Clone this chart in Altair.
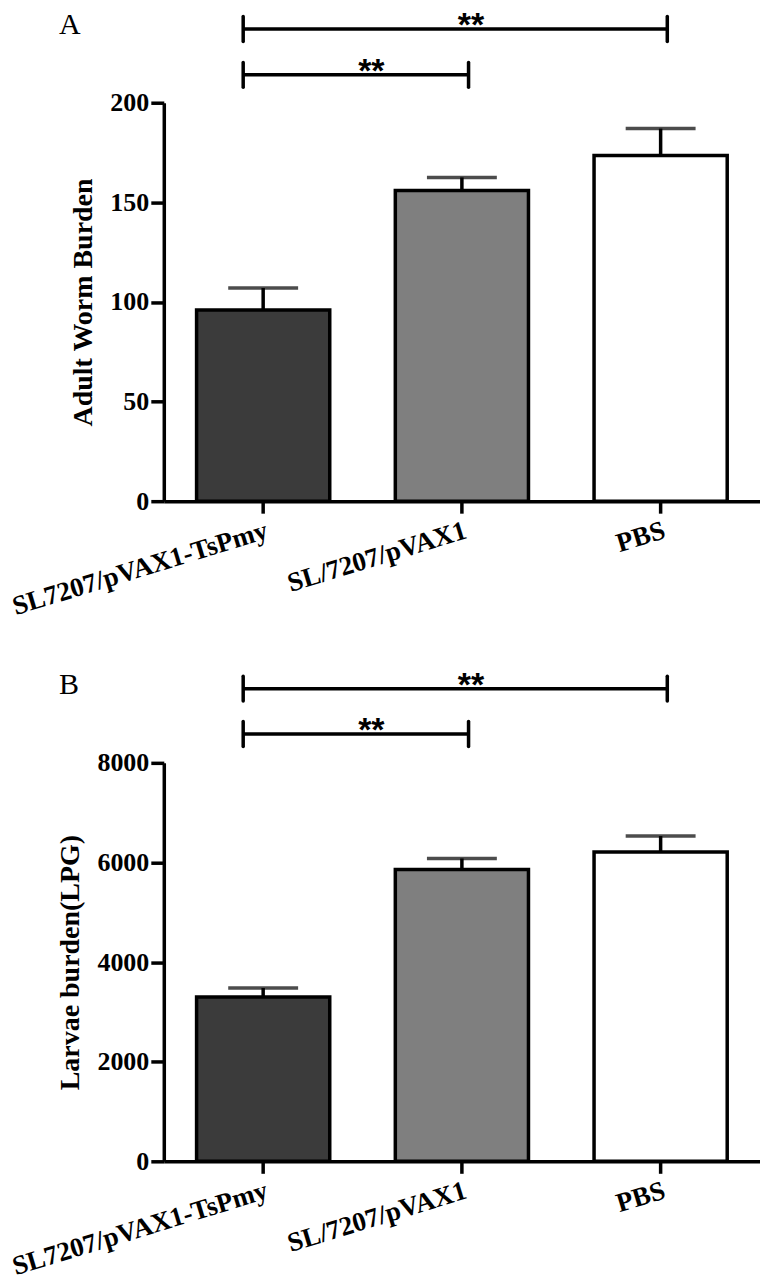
import altair as alt
import pandas as pd

groups = ["SL7207/pVAX1-TsPmy", "SL/7207/pVAX1", "PBS"]
adult_mean = [96, 156, 173.5]
adult_sd = [11, 6.5, 13.5]
larvae_mean = [3300, 5860, 6210]
larvae_sd = [180, 220, 320]
bar_fills = ["#3b3b3b", "#7f7f7f", "#ffffff"]

comp_from = ["SL7207/pVAX1-TsPmy", "SL7207/pVAX1-TsPmy"]
comp_to = ["PBS", "SL/7207/pVAX1"]
comp_mid = ["SL/7207/pVAX1", "SL/7207/pVAX1"]
comp_sig = ["**", "**"]
adult_levels = [237, 214]
larvae_levels = [9490, 8580]

FONT = "Liberation Serif"
SW = 3.5


def panel(means, sds, levels, tick_half, domain_max, ticks, ytitle, letter):
    bars = pd.DataFrame({"group": groups, "mean": means, "sd": sds})
    comps = pd.DataFrame({"g1": comp_from, "g2": comp_to, "mid": comp_mid,
                          "sig": comp_sig, "level": levels, "idx": [0, 1]})

    xscale = alt.Scale(domain=groups, paddingInner=0.33, paddingOuter=0.165)
    x = alt.X("group:N", scale=xscale, sort=groups,
              axis=alt.Axis(title=None, labelAngle=-17, labelAlign="right",
                            labelBaseline="top", labelFont=FONT, labelFontSize=27,
                            labelFontWeight="bold", labelColor="black", labelLimit=0,
                            tickSize=12, tickWidth=SW, tickColor="black",
                            domainWidth=SW, domainColor="black", labelPadding=4))
    y = alt.Y("mean:Q", scale=alt.Scale(domain=[0, domain_max], nice=False),
              axis=alt.Axis(values=ticks, format="d", title=ytitle, grid=False,
                            labelFont=FONT, labelFontSize=26, labelFontWeight="bold",
                            labelColor="black", tickSize=13, tickWidth=SW,
                            tickColor="black", domainWidth=SW, domainColor="black",
                            labelPadding=2, titleFont=FONT, titleFontSize=28,
                            titleFontWeight="bold", titleColor="black",
                            titlePadding=12))

    base = alt.Chart(bars)
    bar = base.mark_bar(stroke="black", strokeWidth=SW).encode(
        x=x, y=y,
        fill=alt.Fill("group:N", scale=alt.Scale(domain=groups, range=bar_fills),
                      legend=None))
    eb = base.transform_calculate(top="datum.mean + datum.sd")
    stem = eb.mark_rule(strokeWidth=SW, color="black").encode(
        x=alt.X("group:N", sort=groups), y="mean:Q", y2="top:Q")
    cap = eb.mark_tick(size=70, thickness=SW, color="black", orient="horizontal").encode(
        x=alt.X("group:N", sort=groups), y="top:Q")

    cb = alt.Chart(comps).transform_calculate(
        lo=f"datum.level - {tick_half}", hi=f"datum.level + {tick_half}")
    hline = cb.mark_rule(strokeWidth=SW, color="black").encode(
        x=alt.X("g1:N", bandPosition=0.35),
        x2=alt.X2("g2:N", bandPosition=0.55),
        y="level:Q")
    lt = cb.mark_rule(strokeWidth=SW, color="black", strokeCap="round").encode(
        x=alt.X("g1:N", bandPosition=0.35), y="lo:Q", y2="hi:Q")
    rt = cb.mark_rule(strokeWidth=SW, color="black", strokeCap="round").encode(
        x=alt.X("g2:N", bandPosition=0.55), y="lo:Q", y2="hi:Q")
    star_style = dict(font="Liberation Sans", fontSize=34, fontWeight="bold",
                      color="black", baseline="alphabetic", dy=7)
    s0 = cb.transform_filter("datum.idx == 0").mark_text(dx=9, **star_style).encode(
        x=alt.X("mid:N", bandPosition=0.5), y="level:Q", text="sig:N")
    s1 = cb.transform_filter("datum.idx == 1").mark_text(dx=-24, **star_style).encode(
        x=alt.X("mid:N", bandPosition=0), y="level:Q", text="sig:N")

    return alt.layer(bar, stem, cap, hline, lt, rt, s0, s1).properties(
        width=597, height=399,
        title=alt.TitleParams(letter, anchor="start", frame="group", dx=-105,
                              offset=-31, font=FONT, fontSize=30,
                              fontWeight="normal", color="black"))


pa = panel(adult_mean, adult_sd, adult_levels, 6.25, 200,
           [0, 50, 100, 150, 200], "Adult Worm Burden", "A")
pb = panel(larvae_mean, larvae_sd, larvae_levels, 250, 8000,
           [0, 2000, 4000, 6000, 8000], "Larvae burden(LPG)", "B")

chart = alt.vconcat(pa, pb, spacing=48).configure(
    background="white", padding=0).configure_view(stroke=None)

chart.save("out.html", embed_options={"renderer": "svg", "actions": False})
